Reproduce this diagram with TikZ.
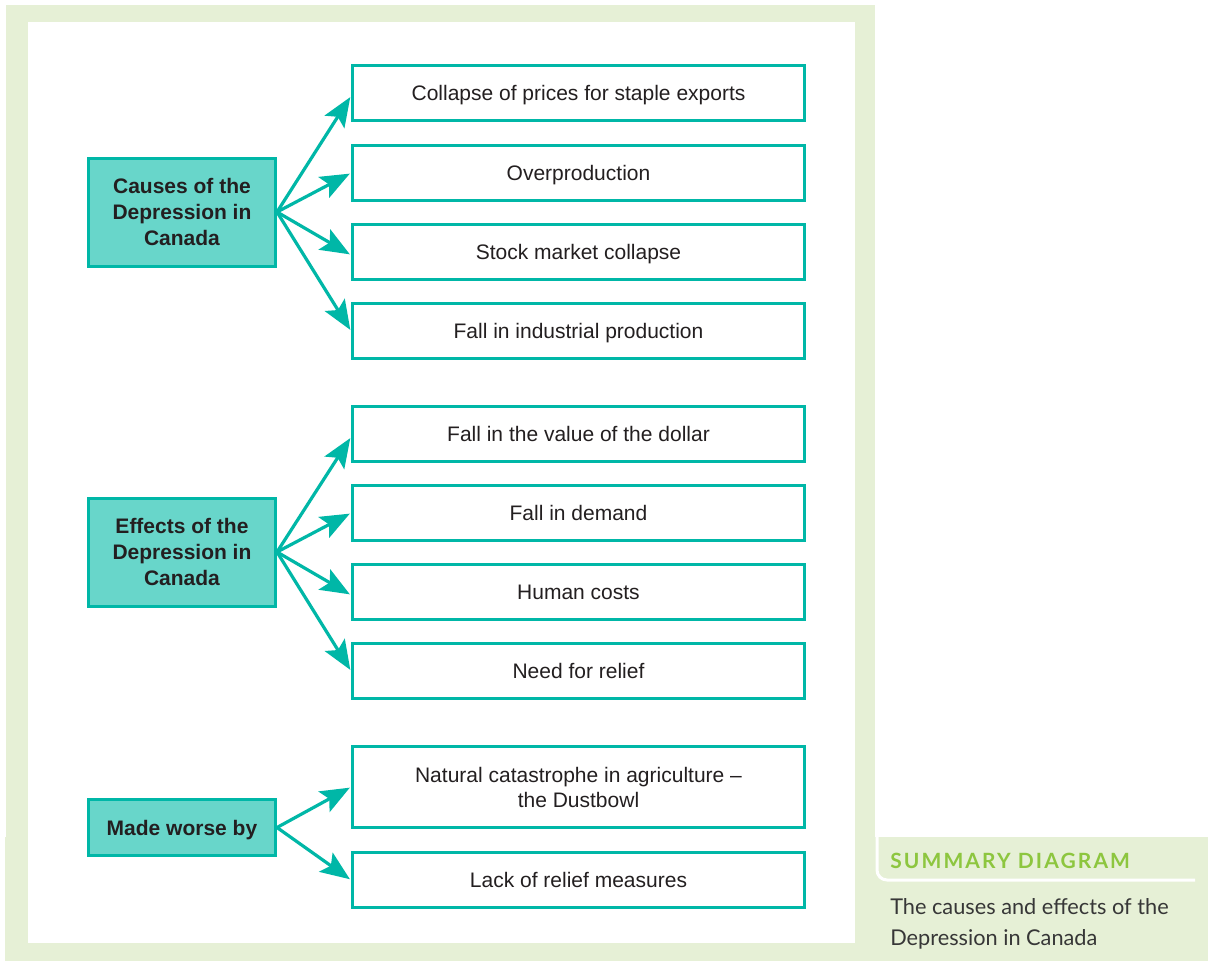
\documentclass[tikz,border=0pt]{standalone}
\usepackage{fontspec}
\setmainfont{Liberation Sans}
\newfontfamily\capfont{Lato}
\newfontfamily\headfont[LetterSpace=10]{Lato}
\usetikzlibrary{arrows.meta,calc}

\definecolor{framegreen}{RGB}{230,240,214}
\definecolor{tealline}{RGB}{0,183,167}
\definecolor{tealfill}{RGB}{104,214,202}
\definecolor{titlegreen}{RGB}{141,198,63}
\definecolor{ink}{RGB}{35,31,32}
\definecolor{capink}{RGB}{55,55,55}

\newcommand\bxfont{\fontsize{15.75pt}{19.5pt}\selectfont}

\tikzset{
  item/.style={draw=tealline, line width=2.25pt, fill=white,
    minimum width=339pt, minimum height=41.25pt, inner sep=0pt,
    align=center, font=\bxfont, text=ink},
  oneline/.style={text height=11.3pt, text depth=0pt},
  head/.style={draw=tealline, line width=2.25pt, fill=tealfill,
    minimum width=140.25pt, inner sep=0pt, align=center,
    font=\bxfont\bfseries, text=ink},
  link/.style={draw=tealline, line width=2.4pt,
    -{Stealth[length=22pt,width=17.5pt,inset=4.5pt]}, shorten >=1pt},
}

\begin{document}
\begin{tikzpicture}[x=0.75pt,y=-0.75pt]
\useasboundingbox (0,0) rectangle (1208,961);

% page frame and summary panel
\fill[framegreen] (6,5) rectangle (875,961);
\fill[framegreen] (5,837) rectangle (1208,961);
\fill[white] (28,22) rectangle (855,943);
\draw[white, line width=2.25pt, rounded corners=7.5pt]
  (877,837) -- (877,880) -- (1195,880);

\node[anchor=base west, inner sep=0pt, text=titlegreen,
  font=\headfont\bfseries\fontsize{15.75pt}{18pt}\selectfont]
  (sumtitle) at (890,868) {SUMMARY DIAGRAM};
\node[anchor=base west, inner sep=0pt, text=capink,
  font=\capfont\fontsize{16.3pt}{23pt}\selectfont]
  (capA) at (890,914) {The causes and effects of the};
\node[anchor=base west, inner sep=0pt, text=capink,
  font=\capfont\fontsize{16.3pt}{23pt}\selectfont]
  (capB) at (890,945) {Depression in Canada};

% causes
\node[head, minimum height=81pt] (causes) at (182,212)
  {Causes of the\\Depression in\\Canada};
\node[item, oneline] (c1) at (578.5,93)  {Collapse of prices for staple exports};
\node[item, oneline] (c2) at (578.5,173) {Overproduction};
\node[item, oneline] (c3) at (578.5,252) {Stock market collapse};
\node[item, oneline] (c4) at (578.5,331) {Fall in industrial production};

% effects
\node[head, minimum height=81pt] (effects) at (182,552)
  {Effects of the\\Depression in\\Canada};
\node[item, oneline] (e1) at (578.5,434) {Fall in the value of the dollar};
\node[item, oneline] (e2) at (578.5,513) {Fall in demand};
\node[item, oneline] (e3) at (578.5,592) {Human costs};
\node[item, oneline] (e4) at (578.5,671) {Need for relief};

% aggravating factors
\node[head, oneline, minimum height=42pt] (worse) at (182,827.5) {Made worse by};
\node[item, minimum height=60.75pt,
  font=\fontsize{15.75pt}{18.75pt}\selectfont] (w1) at (578.5,787)
  {Natural catastrophe in agriculture \textendash\\the Dustbowl};
\node[item, oneline] (w2) at (578.5,880) {Lack of relief measures};

% connectors
\draw[link] (causes.east) -- ([yshift=-2.25pt]c1.west);
\draw[link] (causes.east) -- (c2.west);
\draw[link] (causes.east) -- ([yshift=-2.25pt]c3.west);
\draw[link] (causes.east) -- (c4.west);

\draw[link] (effects.east) -- ([yshift=-2.25pt]e1.west);
\draw[link] (effects.east) -- (e2.west);
\draw[link] (effects.east) -- ([yshift=-2.25pt]e3.west);
\draw[link] (effects.east) -- (e4.west);

\draw[link] (worse.east) -- (w1.west);
\draw[link] (worse.east) -- (w2.west);
\end{tikzpicture}
\end{document}
